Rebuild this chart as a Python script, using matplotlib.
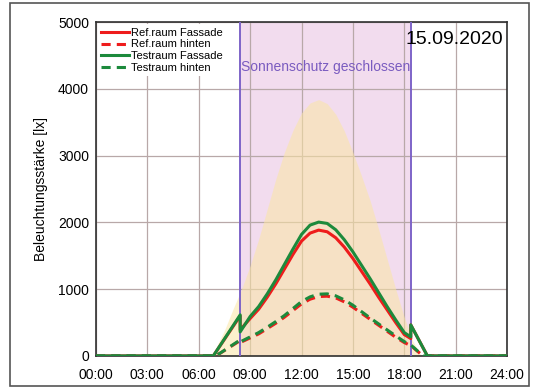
import matplotlib
matplotlib.use('Agg')
import matplotlib.pyplot as plt
from matplotlib.patches import Rectangle

plt.rcParams['font.family'] = ['Liberation Sans', 'DejaVu Sans']

# time in hours
sun_t = [0, 6.7, 7.0, 7.5, 8.0, 8.5, 9.0, 9.5, 10.0, 10.5, 11.0, 11.5, 12.0, 12.5, 13.0, 13.5,
         14.0, 14.5, 15.0, 15.5, 16.0, 16.5, 17.0, 17.5, 18.0, 18.5, 19.0, 24]
sun_v = [0, 0, 120, 380, 700, 1000, 1350, 1750, 2200, 2650, 3050, 3380, 3640, 3790, 3840, 3780,
         3620, 3370, 3050, 2700, 2330, 1900, 1450, 1000, 580, 220, 0, 0]

t_solid = [0, 6.85, 8.42, 8.42, 9.0, 9.5, 10.0, 10.5, 11.0, 11.5, 12.0, 12.5, 13.0, 13.5, 14.0,
           14.5, 15.0, 15.5, 16.0, 16.5, 17.0, 17.5, 18.0, 18.38, 18.38, 19.35, 24]
ref_fassade = [0, 0, 600, 390, 560, 700, 880, 1080, 1300, 1520, 1720, 1840, 1885, 1860, 1770,
               1630, 1460, 1270, 1080, 880, 690, 500, 320, 260, 465, 0, 0]
test_fassade = [0, 0, 615, 360, 590, 740, 930, 1140, 1370, 1600, 1820, 1960, 2005, 1985, 1890,
                1740, 1560, 1360, 1160, 950, 740, 540, 350, 285, 465, 0, 0]

t_dash = [0, 7.0, 8.42, 8.42, 9.0, 9.5, 10.0, 10.5, 11.0, 11.5, 12.0, 12.5, 13.0, 13.5, 14.0,
          14.5, 15.0, 15.5, 16.0, 16.5, 17.0, 17.5, 18.0, 18.38, 19.1, 24]
ref_hinten = [0, 0, 230, 200, 270, 330, 410, 490, 580, 680, 780, 850, 890, 895, 870,
              810, 730, 640, 550, 460, 370, 280, 200, 155, 0, 0]
test_hinten = [0, 0, 240, 210, 285, 350, 430, 515, 605, 710, 815, 885, 925, 930, 900,
               840, 760, 665, 570, 480, 390, 300, 215, 165, 0, 0]

shade_start = 8.42
shade_end = 18.38

fig = plt.figure(figsize=(5.36, 3.89), dpi=100)
ax = fig.add_axes([0.179, 0.085, 0.767, 0.858])

ax.axvspan(shade_start, shade_end, color='#f2dcee', zorder=0, lw=0)
ax.fill_between(sun_t, sun_v, color='#fbe6a4', alpha=0.55, lw=0, zorder=1)
ax.axvline(shade_start, color='#7e64c8', lw=1.4, zorder=4)
ax.axvline(shade_end, color='#7e64c8', lw=1.4, zorder=4)

ax.plot(t_solid, ref_fassade, color='#ee1c1c', lw=2.2, label='Ref.raum Fassade', zorder=5)
ax.plot(t_dash, ref_hinten, color='#ee1c1c', lw=2.2, ls=(0, (3, 2)), label='Ref.raum hinten', zorder=5)
ax.plot(t_solid, test_fassade, color='#1c8a3c', lw=2.2, label='Testraum Fassade', zorder=6)
ax.plot(t_dash, test_hinten, color='#1c8a3c', lw=2.2, ls=(0, (3, 2)), label='Testraum hinten', zorder=6)

ax.set_xlim(0, 24)
ax.set_ylim(0, 5000)
ax.set_xticks(range(0, 25, 3))
ax.set_xticklabels(['%02d:00' % h for h in range(0, 25, 3)])
ax.set_yticks(range(0, 5001, 1000))
ax.tick_params(labelsize=10, length=0)
ax.tick_params(axis='x', pad=9)
ax.tick_params(axis='y', pad=5)
ax.grid(True, color='#b8a8a8', lw=0.9, zorder=2)
ax.set_axisbelow(True)
for s in ax.spines.values():
    s.set_color('#303030')
    s.set_linewidth(1.2)
ax.set_ylabel('Beleuchtungsstärke [lx]', fontsize=10, labelpad=7)

ax.text(0.99, 0.975, '15.09.2020', transform=ax.transAxes, ha='right', va='top',
        fontsize=14, zorder=7)
ax.text(shade_start + 0.05, 4330, 'Sonnenschutz geschlossen', color='#7a5cc0',
        fontsize=10, va='center', zorder=7)

leg = ax.legend(loc='upper left', fontsize=8, frameon=True, framealpha=1,
                edgecolor='none', borderpad=0.3, labelspacing=0.15,
                handlelength=2.5, handletextpad=0.2, borderaxespad=0.2)
leg.set_zorder(8)

fig.patches.append(Rectangle((0.019, 0.008), 0.968, 0.984, transform=fig.transFigure,
                             fill=False, edgecolor='#555555', lw=1.2))

fig.savefig('out.png', dpi=100)
